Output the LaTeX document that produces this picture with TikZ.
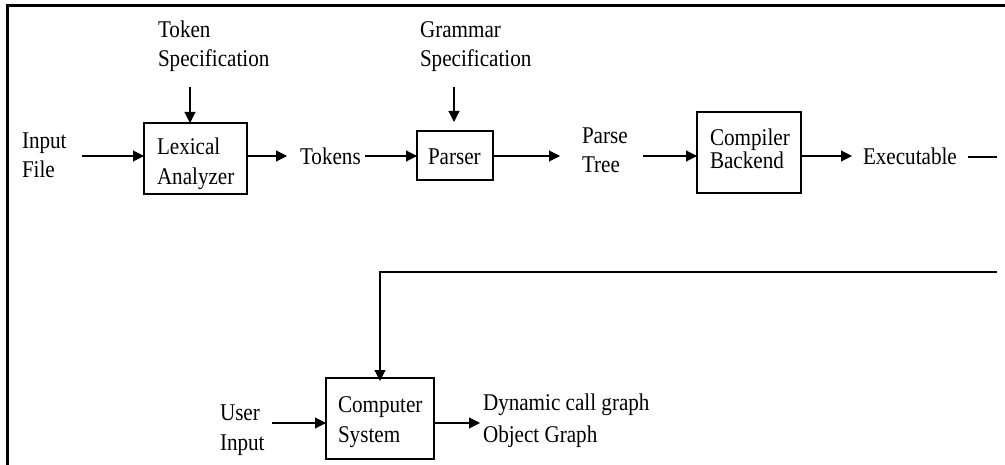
\documentclass[tikz,border=0pt]{standalone}
\usepackage{fontspec}
\setmainfont[FakeStretch=0.88]{Liberation Serif}
\usetikzlibrary{arrows.meta}
\newcommand\twolines[3][30]{\vtop{\baselineskip=#1pt\lineskiplimit=-100pt\halign{##\hfil\cr #2\cr #3\cr}}}
\begin{document}
\begin{tikzpicture}[x=1pt,y=-1pt,
  every node/.style={inner sep=0pt, outer sep=0pt, font=\fontsize{24}{30}\selectfont},
  box/.style={draw, line width=1.1pt},
  ln/.style={line width=1.1pt},
  arr/.style={line width=1.1pt, -{Triangle[length=11pt,width=11pt]}}]
\useasboundingbox (0,0) rectangle (1005,465);
% frame
\draw[line width=2.6pt] (1005,5.5) -- (7.5,5.5) -- (7.5,465);
% boxes
\node[box, minimum width=103pt, minimum height=71pt] (lex) at (195.5,158.5) {};
\node[box, minimum width=76pt, minimum height=49pt] (parser) at (455,155.5) {};
\node[box, minimum width=104pt, minimum height=81pt] (back) at (749,152.5) {};
\node[box, minimum width=108pt, minimum height=81pt] (cs) at (380,418.5) {};
% texts
\node[anchor=base west] (tokspec) at (158,38) {\twolines[29]{Token}{Specification}};
\node[anchor=base west] (gramspec) at (420,38) {\twolines[29]{Grammar}{Specification}};
\node[anchor=base west] (infile) at (22,149) {\twolines[29]{Input}{File}};
\node[anchor=base west] (lextxt) at (157,155) {\twolines{Lexical}{Analyzer}};
\node[anchor=base west] (tokens) at (300,165) {Tokens};
\node[anchor=base west] (partxt) at (428,165) {Parser};
\node[anchor=base west] (ptree) at (582,144) {\twolines[29]{Parse}{Tree}};
\node[anchor=base west] (backtxt) at (710,146) {\twolines[23]{Compiler}{Backend}};
\node[anchor=base west] (exe) at (863,165) {Executable};
\node[anchor=base west] (user) at (220,420) {\twolines{User}{Input}};
\node[anchor=base west] (cstxt) at (338,412) {\twolines[31]{Computer}{System}};
\node[anchor=base west] (dyn) at (483,410) {\twolines[32]{Dynamic call graph}{Object Graph}};
% free ends
\coordinate (inS) at (82,156);
\coordinate (lexE) at (287,156);
\coordinate (tokS) at (365,156);
\coordinate (parE) at (560,156);
\coordinate (ptS) at (643,156);
\coordinate (backE) at (852,156);
\coordinate (exS) at (968,157);
\coordinate (exE) at (997,157);
\coordinate (tsS) at (190,87);
\coordinate (gsS) at (454,87);
\coordinate (gsE) at (454,122);
\coordinate (fbS) at (997,272);
\coordinate (fbC) at (380,272);
\coordinate (uiS) at (272,423);
\coordinate (csE) at (480,423);
% connectors
\draw[arr] (inS) -- (inS -| lex.west);
\draw[arr] (inS -| lex.east) -- (lexE);
\draw[arr] (tokS) -- (tokS -| parser.west);
\draw[arr] (tokS -| parser.east) -- (parE);
\draw[arr] (ptS) -- (ptS -| back.west);
\draw[arr] (ptS -| back.east) -- (backE);
\draw[ln] (exS) -- (exE);
\draw[arr] (tsS) -- (tsS |- lex.north);
\draw[arr] (gsS) -- (gsE);
\draw[arr] (fbS) -- (fbC) -- ([yshift=-3pt]fbC |- cs.north);
\draw[arr] (uiS) -- (uiS -| cs.west);
\draw[arr] (uiS -| cs.east) -- (csE);
\end{tikzpicture}
\end{document}
